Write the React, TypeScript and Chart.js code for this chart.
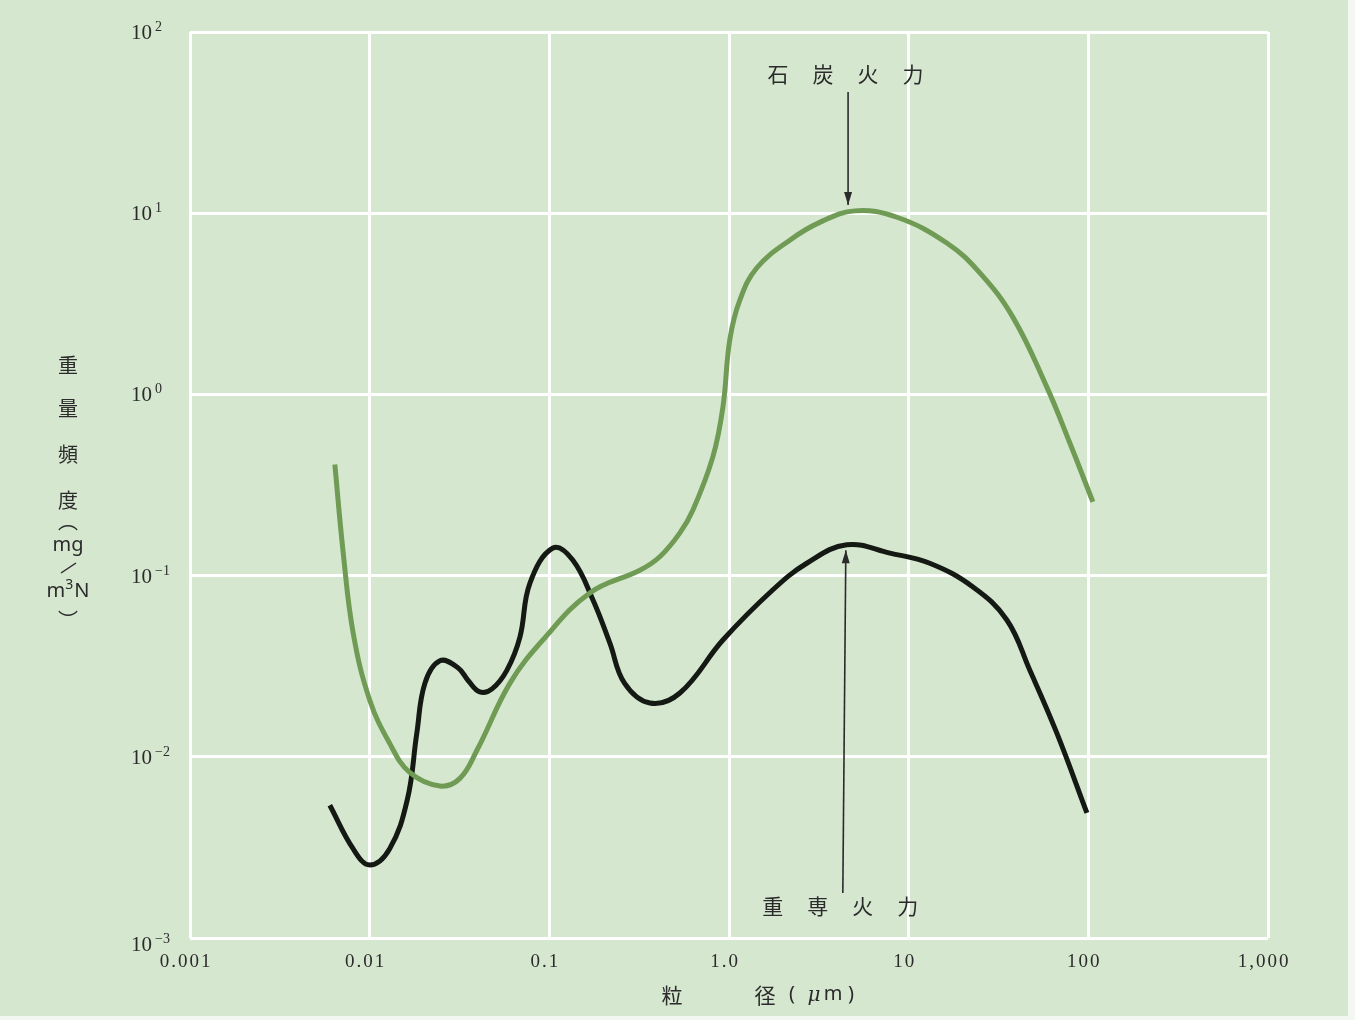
import React, { useEffect, useRef } from "react";
import { Chart, registerables } from "chart.js";

Chart.register(...registerables);

// ---- axis ticks ----
const xTicks = [0.001, 0.01, 0.1, 1, 10, 100, 1000];
const xTickLabels = ["0.001", "0.01", "0.1", "1.0", "10", "100", "1,000"];
const yTicks = [0.001, 0.01, 0.1, 1, 10, 100];
const yTickExponents = ["−3", "−2", "−1", "0", "1", "2"];

// ---- series: 石炭火力 (coal-fired) ----
const coalX = [0.0064, 0.0071, 0.0081, 0.010, 0.0129, 0.0167, 0.0246, 0.0318, 0.0396, 0.0604, 0.092, 0.168, 0.319, 0.412, 0.533, 0.63, 0.813, 0.925, 1.01, 1.15, 1.43, 2.18, 3.2, 5.0, 8.6, 16.3, 24.9, 38, 58.7, 78.9, 106];
const coalY = [0.41, 0.138, 0.048, 0.0206, 0.0119, 0.0082, 0.0069, 0.0076, 0.0109, 0.0255, 0.0441, 0.0802, 0.107, 0.127, 0.172, 0.23, 0.452, 0.851, 2.0, 3.32, 5.0, 7.1, 8.9, 10.3, 9.5, 6.85, 4.68, 2.67, 1.10, 0.539, 0.255];

// ---- series: 重専火力 (heavy-oil-fired) ----
const oilX = [0.0060, 0.0081, 0.0100, 0.0129, 0.0162, 0.0183, 0.0203, 0.0246, 0.0310, 0.0355, 0.041, 0.048, 0.0581, 0.0686, 0.078, 0.1047, 0.135, 0.175, 0.217, 0.262, 0.363, 0.533, 0.925, 1.75, 2.71, 4.53, 7.86, 13.1, 22.8, 35.2, 47.2, 66.8, 98.2];
const oilY = [0.0054, 0.0031, 0.00253, 0.0031, 0.0058, 0.0135, 0.0255, 0.0339, 0.0310, 0.0262, 0.0228, 0.0237, 0.0301, 0.0458, 0.091, 0.142, 0.122, 0.0733, 0.0425, 0.0255, 0.0198, 0.0225, 0.0441, 0.0833, 0.117, 0.148, 0.133, 0.117, 0.0865, 0.0569, 0.0301, 0.0135, 0.0049];

// ---- annotations ----
const coalLabel = ["石", "炭", "火", "力"];
const oilLabel = ["重", "専", "火", "力"];
const coalArrowTip = { x: 4.6, y: 11.1 };
const oilArrowTip = { x: 4.47, y: 0.138 };
const oilArrowBase = { x: 4.3 };
const yTitleChars = ["重", "量", "頻", "度"];

const BG = "#d6e7d0";
const TEXT = "#2b2b2b";
const CJK = "'Noto Sans CJK JP', 'Noto Sans CJK SC', sans-serif";
const NUM = "'Liberation Serif', 'DejaVu Serif', serif";

function drawArrow(ctx: CanvasRenderingContext2D, x1: number, y1: number, x2: number, y2: number) {
  ctx.beginPath();
  ctx.moveTo(x1, y1);
  ctx.lineTo(x2, y2);
  ctx.stroke();
  const ang = Math.atan2(y2 - y1, x2 - x1);
  const L = 13;
  const W = 4;
  ctx.beginPath();
  ctx.moveTo(x2, y2);
  ctx.lineTo(x2 - L * Math.cos(ang) + W * Math.sin(ang), y2 - L * Math.sin(ang) - W * Math.cos(ang));
  ctx.lineTo(x2 - L * Math.cos(ang) - W * Math.sin(ang), y2 - L * Math.sin(ang) + W * Math.cos(ang));
  ctx.closePath();
  ctx.fill();
}

const bgPlugin = {
  id: "bgPlugin",
  beforeDraw(chart: any) {
    const { ctx, width, height } = chart;
    ctx.save();
    ctx.fillStyle = BG;
    ctx.fillRect(0, 0, width, height);
    ctx.fillStyle = "#f4f8f2";
    ctx.fillRect(1348, 0, width - 1348, height);
    ctx.fillRect(0, 1016, width, height - 1016);
    ctx.restore();
  },
};

const textPlugin = {
  id: "textPlugin",
  afterDraw(chart: any) {
    const { ctx } = chart;
    const xs = chart.scales.x;
    const ys = chart.scales.y;
    ctx.save();
    ctx.fillStyle = TEXT;
    ctx.strokeStyle = TEXT;

    // y tick labels 10^n
    yTicks.forEach((v, i) => {
      const py = ys.getPixelForValue(v) + (i === 0 ? 6 : 0);
      ctx.font = `21px ${NUM}`;
      ctx.textAlign = "left";
      ctx.textBaseline = "alphabetic";
      ctx.fillText("10", 131, py + 7);
      const w = ctx.measureText("10").width;
      ctx.font = `14px ${NUM}`;
      ctx.fillText(yTickExponents[i], 131 + w + 3, py - 1);
    });

    // x tick labels
    ctx.font = `19px ${NUM}`;
    (ctx as any).letterSpacing = "2px";
    ctx.textAlign = "center";
    ctx.textBaseline = "middle";
    xTicks.forEach((v, i) => {
      ctx.fillText(xTickLabels[i], xs.getPixelForValue(v) - 4, 962);
    });
    (ctx as any).letterSpacing = "0px";

    // y axis title (vertical)
    ctx.font = `20px ${CJK}`;
    ctx.textAlign = "center";
    ctx.textBaseline = "middle";
    const tY = [365, 408, 454, 500];
    yTitleChars.forEach((c, i) => ctx.fillText(c, 68, tY[i]));
    ctx.fillText("︵", 68, 521);
    ctx.font = `20px 'Noto Sans', sans-serif`;
    ctx.fillText("mg", 68, 545);
    ctx.lineWidth = 1.5;
    ctx.beginPath();
    ctx.moveTo(61, 573);
    ctx.lineTo(76, 563);
    ctx.stroke();
    // m3N
    ctx.textAlign = "left";
    const big = `20px 'Noto Sans', sans-serif`;
    const small = `14px 'Noto Sans', sans-serif`;
    ctx.font = big;
    const wm = ctx.measureText("m").width;
    const wN = ctx.measureText("N").width;
    ctx.font = small;
    const w3 = ctx.measureText("3").width;
    let sx = 68 - (wm + w3 + wN + 1) / 2;
    ctx.font = big;
    ctx.fillText("m", sx, 591);
    sx += wm;
    ctx.font = small;
    ctx.fillText("3", sx, 585);
    sx += w3 + 1;
    ctx.font = big;
    ctx.fillText("N", sx, 591);
    ctx.textAlign = "center";
    ctx.font = `20px ${CJK}`;
    ctx.fillText("︶", 68, 620);

    // x axis title
    ctx.font = `21px ${CJK}`;
    ctx.fillText("粒", 672, 995);
    ctx.fillText("径", 765, 995);
    ctx.font = `20px 'Noto Sans', sans-serif`;
    ctx.fillText("(", 792, 994);
    ctx.font = `italic 20px 'DejaVu Serif', serif`;
    ctx.fillText("μ", 814, 996);
    ctx.font = `20px 'Noto Sans', sans-serif`;
    ctx.fillText("m", 833, 994);
    ctx.fillText(")", 851, 994);

    // annotations
    ctx.lineWidth = 1.6;
    const cx = xs.getPixelForValue(coalArrowTip.x);
    const cyTip = ys.getPixelForValue(coalArrowTip.y);
    drawArrow(ctx, cx, 92, cx, cyTip);
    ctx.font = `21px ${CJK}`;
    coalLabel.forEach((c, i) => ctx.fillText(c, cx - 70 + i * 45, 74));

    const oxTip = xs.getPixelForValue(oilArrowTip.x);
    const oyTip = ys.getPixelForValue(oilArrowTip.y);
    const oxBase = xs.getPixelForValue(oilArrowBase.x);
    drawArrow(ctx, oxBase, 893, oxTip, oyTip);
    oilLabel.forEach((c, i) => ctx.fillText(c, oxBase - 70 + i * 45, 906));

    ctx.restore();
  },
};

export default function App() {
  const ref = useRef<HTMLCanvasElement | null>(null);

  useEffect(() => {
    if (!ref.current) return;
    const coalData = coalX.map((x, i) => ({ x, y: coalY[i] }));
    const oilData = oilX.map((x, i) => ({ x, y: oilY[i] }));
    const chart = new Chart(ref.current, {
      type: "line",
      data: {
        datasets: [
          {
            label: "石炭火力",
            data: coalData,
            borderColor: "#709b55",
            borderWidth: 5,
            pointRadius: 0,
            fill: false,
            tension: 0.4,
            borderCapStyle: "butt",
            borderJoinStyle: "round",
          },
          {
            label: "重専火力",
            data: oilData,
            borderColor: "#141914",
            borderWidth: 5,
            pointRadius: 0,
            fill: false,
            tension: 0.4,
            borderCapStyle: "butt",
            borderJoinStyle: "round",
          },
        ],
      },
      options: {
        animation: false,
        responsive: false,
        maintainAspectRatio: false,
        layout: { padding: { left: 0, top: 32, right: 87, bottom: 22 } },
        plugins: { legend: { display: false }, tooltip: { enabled: false } },
        scales: {
          x: {
            type: "logarithmic",
            min: 0.001,
            max: 1000,
            afterBuildTicks: (scale: any) => {
              scale.ticks = xTicks.map((v) => ({ value: v }));
            },
            afterFit: (scale: any) => {
              scale.height = 60;
            },
            ticks: { display: false },
            grid: { color: "rgba(255,255,255,0.95)", lineWidth: 3, drawTicks: false },
            border: { display: false },
          },
          y: {
            type: "logarithmic",
            min: 0.001,
            max: 100,
            afterBuildTicks: (scale: any) => {
              scale.ticks = yTicks.map((v) => ({ value: v }));
            },
            afterFit: (scale: any) => {
              scale.width = 190;
            },
            ticks: { display: false },
            grid: { color: "rgba(255,255,255,0.95)", lineWidth: 3, drawTicks: false },
            border: { display: false },
          },
        },
      },
      plugins: [bgPlugin, textPlugin],
    } as any);
    return () => chart.destroy();
  }, []);

  return (
    <div style={{ position: "fixed", left: 0, top: 0, width: 1355, height: 1020, background: BG }}>
      <canvas ref={ref} width={1355} height={1020} style={{ display: "block" }} />
    </div>
  );
}
